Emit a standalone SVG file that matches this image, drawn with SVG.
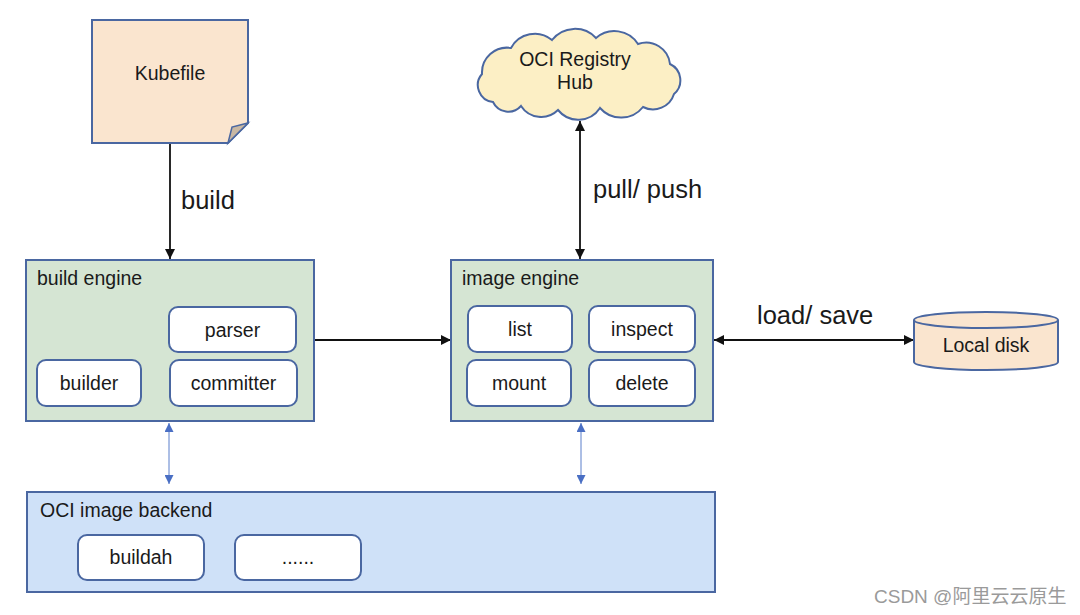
<svg xmlns="http://www.w3.org/2000/svg" width="1080" height="615" viewBox="0 0 1080 615">
<defs>
<style>
text{font-family:"Liberation Sans",Arial,"Noto Sans CJK SC",sans-serif;fill:#1a1a1a}
.n{font-size:19.5px}
.c{text-anchor:middle}
.lbl{font-size:25.5px}
.box{stroke:#4a67a1;stroke-width:2}
.green{fill:#d5e5d3}
.white{fill:#ffffff}
.blue{fill:#cfe1f8}
.peach{fill:#fae5cf}
.con{stroke:#111;stroke-width:1.8;fill:none}
.bcon{stroke:#5b7fcb;stroke-width:1;fill:none}
</style>
<marker id="ah" viewBox="0 0 10 10" refX="10" refY="5" markerWidth="10" markerHeight="10" markerUnits="userSpaceOnUse" orient="auto-start-reverse">
<path d="M0,0 L10,5 L0,10 z" fill="#111"/>
</marker>
<marker id="bh" viewBox="0 0 10 10" refX="10" refY="5" markerWidth="10" markerHeight="9" markerUnits="userSpaceOnUse" orient="auto-start-reverse">
<path d="M0,0 L10,5 L0,10 z" fill="#4a6fc4"/>
</marker>
</defs>
<rect width="1080" height="615" fill="#ffffff"/>

<g id="connectors">
<line class="con" x1="170" y1="144" x2="170" y2="259" marker-end="url(#ah)"/>
<line class="con" x1="314" y1="340" x2="451" y2="340" marker-end="url(#ah)"/>
<line class="con" x1="580" y1="121" x2="580" y2="259" marker-start="url(#ah)" marker-end="url(#ah)"/>
<line class="con" x1="714" y1="340" x2="914" y2="340" marker-start="url(#ah)" marker-end="url(#ah)"/>
<line class="bcon" x1="169" y1="423" x2="169" y2="484" marker-start="url(#bh)" marker-end="url(#bh)"/>
<line class="bcon" x1="581" y1="423" x2="581" y2="484" marker-start="url(#bh)" marker-end="url(#bh)"/>
<text class="lbl" x="181" y="209">build</text>
<text class="lbl" x="593" y="198">pull/ push</text>
<text class="lbl" x="757" y="324">load/ save</text>
</g>

<g id="kubefile">
<path class="box peach" d="M92,20 H248 V123 L228,143 H92 Z"/>
<path d="M228,143 L232,127 L248,123 Z" fill="#c9b8a3" stroke="#4a67a1" stroke-width="1.5"/>
<text class="n c" x="170" y="80">Kubefile</text>
</g>

<g id="oci-registry-hub">
<path class="box" fill="#fcefc5" d="M493,102 A17,17 0 0 1 482,74 A25,25 0 0 1 511,48 A27,27 0 0 1 552,40 A29,29 0 0 1 596,38 A28,28 0 0 1 638,44 A24,24 0 0 1 670,64 A18,18 0 0 1 674,94 A22,22 0 0 1 643,107 A28,28 0 0 1 600,108 A26,26 0 0 1 558,110 A24,24 0 0 1 521,106 A17,17 0 0 1 493,102 Z"/>
<text class="n c" x="575" y="66">OCI Registry</text>
<text class="n c" x="575" y="89">Hub</text>
</g>

<g id="build-engine">
<rect class="box green" x="26" y="260" width="288" height="161"/>
<text class="n" x="37" y="285">build engine</text>
</g>
<g id="parser">
<rect class="box white" x="169" y="307" width="127" height="45" rx="9"/>
<text class="n c" x="232.5" y="337">parser</text>
</g>
<g id="builder">
<rect class="box white" x="37" y="360" width="104" height="46" rx="9"/>
<text class="n c" x="89" y="390">builder</text>
</g>
<g id="committer">
<rect class="box white" x="170" y="360" width="127" height="46" rx="9"/>
<text class="n c" x="233.5" y="390">committer</text>
</g>

<g id="image-engine">
<rect class="box green" x="451" y="260" width="262" height="161"/>
<text class="n" x="462" y="285">image engine</text>
</g>
<g id="list">
<rect class="box white" x="468" y="306" width="104" height="46" rx="9"/>
<text class="n c" x="520" y="336">list</text>
</g>
<g id="inspect">
<rect class="box white" x="589" y="306" width="106" height="46" rx="9"/>
<text class="n c" x="642" y="336">inspect</text>
</g>
<g id="mount">
<rect class="box white" x="467" y="360" width="104" height="46" rx="9"/>
<text class="n c" x="519" y="390">mount</text>
</g>
<g id="delete">
<rect class="box white" x="589" y="360" width="106" height="46" rx="9"/>
<text class="n c" x="642" y="390">delete</text>
</g>

<g id="local-disk">
<path class="box peach" d="M914,320 A72,8 0 0 1 1058,320 V362 A72,8 0 0 1 914,362 Z"/>
<path d="M914,320 A72,8 0 0 0 1058,320" fill="none" stroke="#4a67a1" stroke-width="2"/>
<text class="n c" x="986" y="352">Local disk</text>
</g>

<g id="oci-image-backend">
<rect class="box blue" x="27" y="492" width="688" height="100"/>
<text class="n" x="40" y="517">OCI image backend</text>
</g>
<g id="buildah">
<rect class="box white" x="78" y="535" width="126" height="45" rx="9"/>
<text class="n c" x="141" y="564">buildah</text>
</g>
<g id="more">
<rect class="box white" x="235" y="535" width="126" height="45" rx="9"/>
<text class="n c" x="298" y="564">......</text>
</g>

<text x="874" y="603" style="font-size:19px;fill:#9a9a9a">CSDN @阿里云云原生</text>
</svg>
